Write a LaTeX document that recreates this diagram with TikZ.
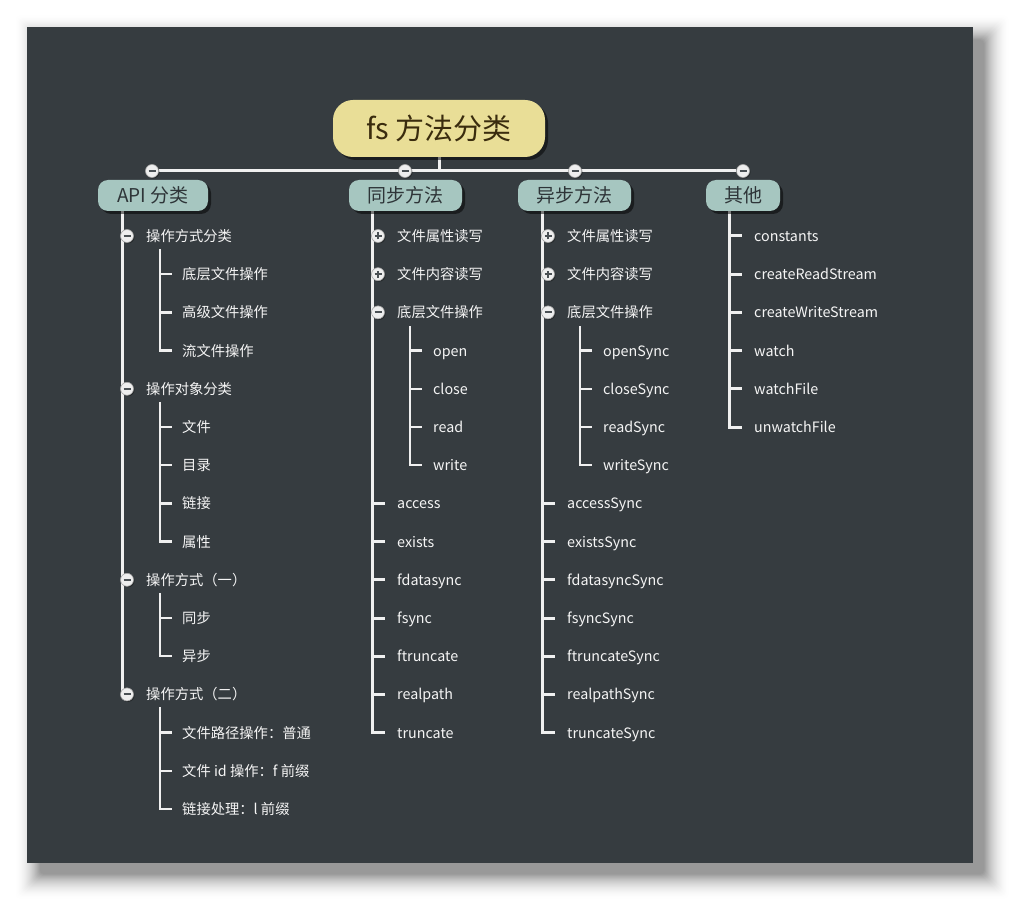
\documentclass[tikz,border=0pt]{standalone}
\usepackage{fontspec}
\setmainfont{Noto Sans CJK SC}
\usetikzlibrary{shadows}
\definecolor{bgc}{HTML}{363C40}
\definecolor{rootc}{HTML}{E9DE97}
\definecolor{roottxt}{HTML}{3A2C0E}
\definecolor{topicc}{HTML}{A6C6C0}
\definecolor{topictxt}{HTML}{2E3538}
\definecolor{linec}{HTML}{F0F0F0}
\definecolor{itemtxt}{HTML}{F5F5F5}
\definecolor{togfill}{HTML}{EEEEEE}
\definecolor{togmark}{HTML}{4A5054}
\pgfdeclarelayer{back}
\pgfdeclarelayer{wires}
\pgfsetlayers{back,wires,main}
\tikzset{
  mainline/.style={draw=linec, line width=3pt},
  subline/.style={draw=linec, line width=2.5pt},
  rootbox/.style={rounded corners=20pt, fill=rootc, text=roottxt, minimum width=212pt, minimum height=57pt, inner sep=0pt, font=\fontsize{29}{32}\selectfont, text height=25.5pt, text depth=3.5pt, drop shadow={shadow xshift=3pt, shadow yshift=-3pt, fill=black, opacity=0.5}},
  topicbox/.style={rounded corners=10pt, fill=topicc, text=topictxt, minimum height=31pt, inner sep=0pt, font=\fontsize{19}{22}\selectfont, text height=16.7pt, text depth=2.3pt, drop shadow={shadow xshift=3pt, shadow yshift=-3pt, fill=black, opacity=0.5}},
  itemtext/.style={anchor=west, text=itemtxt, inner sep=0pt, font=\fontsize{14.3}{16}\selectfont, text height=12.6pt, text depth=1.7pt},
  togglebox/.style={circle, fill=togfill, draw=gray!70, line width=0.6pt, minimum size=13pt, inner sep=0pt, drop shadow={shadow xshift=1pt, shadow yshift=-1pt, fill=black, opacity=0.35}},
  minusmark/.style={togglebox, path picture={\draw[togmark, line width=2pt] ([xshift=3pt]path picture bounding box.west) -- ([xshift=-3pt]path picture bounding box.east);}},
  plusmark/.style={togglebox, path picture={\draw[togmark, line width=2pt] ([xshift=3pt]path picture bounding box.west) -- ([xshift=-3pt]path picture bounding box.east) ([yshift=3pt]path picture bounding box.south) -- ([yshift=-3pt]path picture bounding box.north);}},
}
\begin{document}
\begin{tikzpicture}[x=1pt,y=-1pt]
\useasboundingbox (0,0) rectangle (1026,917);
\begin{pgfonlayer}{back}
\fill[white] (0,0) rectangle (1026,917);
\foreach \s in {52,51,...,0}{
  \pgfmathsetmacro{\d}{int(round(400*(1-\s/52)^2))/10}
  \fill[black!\d!white, rounded corners=4pt] ({40-\s/2},{40-\s/2}) rectangle ({984+\s/2},{874+\s/2});
}
\fill[bgc] (27,27) rectangle (973,863);
\end{pgfonlayer}

% root and first level
\node[rootbox] (root) at (439,128.5) {fs 方法分类};
\node[minusmark] (c1) at (152,171) {};
\node[minusmark] (c2) at (405,171) {};
\node[minusmark] (c3) at (575,171) {};
\node[minusmark] (c4) at (743,171) {};
\node[topicbox, minimum width=110pt] (api) at (153,195.5) {API 分类};
\node[topicbox, minimum width=113pt] (tb) at (405.5,195.5) {同步方法};
\node[topicbox, minimum width=113pt] (yb) at (574.5,195.5) {异步方法};
\node[topicbox, minimum width=74pt] (qt) at (743,195.5) {其他};
\coordinate (apiL) at ([xshift=25pt]api.south west);
\coordinate (tbL) at ([xshift=24pt]tb.south west);
\coordinate (ybL) at ([xshift=25pt]yb.south west);
\coordinate (qtL) at ([xshift=24pt]qt.south west);

% API column
\foreach \r/\n/\t in {0/a1/操作方式分类, 4/a2/操作对象分类, 9/a3/操作方式（一）, 12/a4/操作方式（二）}{
  \node[minusmark] (c\n) at (127,{236+38.2*\r}) {};
  \node[itemtext] (\n) at (146,{236+38.2*\r}) {\t};
}
\foreach \r/\n/\t in {1/a11/底层文件操作, 2/a12/高级文件操作, 3/a13/流文件操作, 5/a21/文件, 6/a22/目录, 7/a23/链接, 8/a24/属性, 10/a31/同步, 11/a32/异步, 13/a41/文件路径操作：普通, 14/a42/文件 id 操作：f 前缀, 15/a43/链接处理：l 前缀}{
  \node[itemtext] (\n) at (182,{236+38.2*\r}) {\t};
}

% sync column
\node[plusmark] (ct1) at (378,236) {};
\node[itemtext] (t1) at (397,236) {文件属性读写};
\node[plusmark] (ct2) at (378,274.2) {};
\node[itemtext] (t2) at (397,274.2) {文件内容读写};
\node[minusmark] (ct3) at (378,312.4) {};
\node[itemtext] (t3) at (397,312.4) {底层文件操作};
\foreach \r/\n/\t in {3/ts1/open, 4/ts2/close, 5/ts3/read, 6/ts4/write}{
  \node[itemtext] (\n) at (433,{236+38.2*\r}) {\t};
}
\foreach \r/\n/\t in {7/tl1/access, 8/tl2/exists, 9/tl3/fdatasync, 10/tl4/fsync, 11/tl5/ftruncate, 12/tl6/realpath, 13/tl7/truncate}{
  \node[itemtext] (\n) at (397,{236+38.2*\r}) {\t};
}

% async column
\node[plusmark] (cy1) at (548,236) {};
\node[itemtext] (y1) at (567,236) {文件属性读写};
\node[plusmark] (cy2) at (548,274.2) {};
\node[itemtext] (y2) at (567,274.2) {文件内容读写};
\node[minusmark] (cy3) at (548,312.4) {};
\node[itemtext] (y3) at (567,312.4) {底层文件操作};
\foreach \r/\n/\t in {3/ys1/openSync, 4/ys2/closeSync, 5/ys3/readSync, 6/ys4/writeSync}{
  \node[itemtext] (\n) at (603,{236+38.2*\r}) {\t};
}
\foreach \r/\n/\t in {7/yl1/accessSync, 8/yl2/existsSync, 9/yl3/fdatasyncSync, 10/yl4/fsyncSync, 11/yl5/ftruncateSync, 12/yl6/realpathSync, 13/yl7/truncateSync}{
  \node[itemtext] (\n) at (567,{236+38.2*\r}) {\t};
}

% other column
\foreach \r/\n/\t in {0/q1/constants, 1/q2/createReadStream, 2/q3/createWriteStream, 3/q4/watch, 4/q5/watchFile, 5/q6/unwatchFile}{
  \node[itemtext] (\n) at (754,{236+38.2*\r}) {\t};
}

% connectors
\begin{pgfonlayer}{wires}
\draw[mainline] (root) -- (root |- c1);
\draw[mainline] (c1) -- (c4);
% API
\draw[mainline] (apiL) -- (apiL |- ca4);
\draw[subline] ([xshift=14pt,yshift=-13pt]a1.west) |- ([xshift=-10pt]a13.west);
\draw[subline] ([xshift=14pt,yshift=-13pt]a2.west) |- ([xshift=-10pt]a24.west);
\draw[subline] ([xshift=14pt,yshift=-13pt]a3.west) |- ([xshift=-10pt]a32.west);
\draw[subline] ([xshift=14pt,yshift=-13pt]a4.west) |- ([xshift=-10pt]a43.west);
\foreach \n in {a11,a12,a21,a22,a23,a31,a41,a42}
  \draw[subline] ([xshift=-22pt]\n.west) -- ([xshift=-10pt]\n.west);
% sync
\draw[mainline] (tbL) |- ([xshift=-12pt]tl7.west);
\foreach \n in {tl1,tl2,tl3,tl4,tl5,tl6}
  \draw[mainline] ([xshift=-24pt]\n.west) -- ([xshift=-12pt]\n.west);
\draw[subline] ([xshift=13pt,yshift=-14pt]t3.west) |- ([xshift=-11pt]ts4.west);
\foreach \n in {ts1,ts2,ts3}
  \draw[subline] ([xshift=-23pt]\n.west) -- ([xshift=-11pt]\n.west);
% async
\draw[mainline] (ybL) |- ([xshift=-12pt]yl7.west);
\foreach \n in {yl1,yl2,yl3,yl4,yl5,yl6}
  \draw[mainline] ([xshift=-24pt]\n.west) -- ([xshift=-12pt]\n.west);
\draw[subline] ([xshift=13pt,yshift=-14pt]y3.west) |- ([xshift=-11pt]ys4.west);
\foreach \n in {ys1,ys2,ys3}
  \draw[subline] ([xshift=-23pt]\n.west) -- ([xshift=-11pt]\n.west);
% other
\draw[mainline] (qtL) |- ([xshift=-12pt]q6.west);
\foreach \n in {q1,q2,q3,q4,q5}
  \draw[mainline] ([xshift=-24pt]\n.west) -- ([xshift=-12pt]\n.west);
\end{pgfonlayer}
\end{tikzpicture}
\end{document}
